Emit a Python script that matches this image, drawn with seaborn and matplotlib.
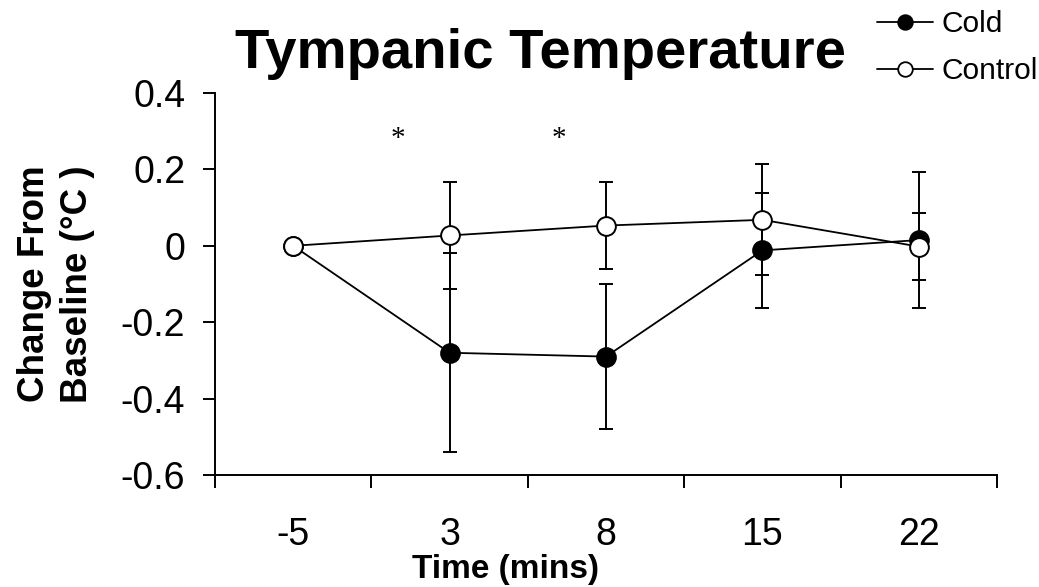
import numpy as np
import pandas as pd
import matplotlib
matplotlib.use("Agg")
import matplotlib.pyplot as plt
from matplotlib.lines import Line2D
import seaborn as sns

# ---- data ----
times = ["-5", "3", "8", "15", "22"]
cold_mean = [0.0, -0.28, -0.29, -0.012, 0.015]
cold_err = [0.0, 0.26, 0.19, 0.15, 0.178]
control_mean = [0.0, 0.027, 0.053, 0.068, -0.002]
control_err = [0.0, 0.14, 0.115, 0.145, 0.087]
ytick_vals = [-0.6, -0.4, -0.2, 0.0, 0.2, 0.4]
ytick_labels = ["-0.6", "-0.4", "-0.2", "0", "0.2", "0.4"]
star_x = [0.672, 1.701]
star_y = [0.262, 0.262]

sns.set_style("white")
plt.rcParams["font.family"] = ["Liberation Sans", "DejaVu Sans"]
plt.rcParams["text.color"] = "black"
plt.rcParams["axes.labelcolor"] = "black"
plt.rcParams["xtick.color"] = "black"
plt.rcParams["ytick.color"] = "black"

df = pd.DataFrame({
    "Time": times * 2,
    "Change": cold_mean + control_mean,
    "Err": cold_err + control_err,
    "Group": ["Cold"] * len(times) + ["Control"] * len(times),
})

fig = plt.figure(figsize=(10.39, 5.87), dpi=100)
ax = fig.add_axes([215 / 1039, 1 - 475 / 587, (997 - 215) / 1039, (475 - 93) / 587])

styles = {"Cold": "black", "Control": "white"}
for g, face in styles.items():
    sub = df[df["Group"] == g]
    pos = [times.index(t) for t in sub["Time"]]
    ax.errorbar(pos, sub["Change"], yerr=sub["Err"], fmt="none", ecolor="black",
                elinewidth=1.4, capsize=4.7, capthick=1.4, zorder=2)
for g, face in styles.items():
    sub = df[df["Group"] == g]
    sns.pointplot(data=sub, x="Time", y="Change", order=times, color="black",
                  markers="o", errorbar=None, ax=ax, linewidth=1.3,
                  markersize=13.5, markeredgewidth=1.4, markerfacecolor=face,
                  markeredgecolor="black", zorder=3)

ax.set_xlim(-0.5, len(times) - 0.5)
ax.set_ylim(ytick_vals[0], ytick_vals[-1])
ax.set_yticks(ytick_vals)
ax.set_yticklabels(ytick_labels)
ax.set_xticks(range(len(times)))
ax.set_xticklabels(times)
ax.set_xticks(np.arange(-0.5, len(times), 1.0), minor=True)

for s in ["top", "right"]:
    ax.spines[s].set_visible(False)
for s in ["left", "bottom"]:
    ax.spines[s].set_color("black")
    ax.spines[s].set_linewidth(1.4)

ax.tick_params(axis="x", which="major", bottom=True, length=0, pad=30, labelsize=27,
               colors="black")
ax.tick_params(axis="x", which="minor", bottom=True, length=9.4, width=1.4,
               direction="out", color="black")
ax.tick_params(axis="y", which="major", left=True, length=8.5, width=1.4, direction="out",
               pad=13, labelsize=27, color="black", labelcolor="black")

ax.set_xlabel("Time (mins)", fontsize=24, fontweight="bold")
ax.xaxis.set_label_coords(0.371, -0.207)
ax.set_ylabel("Change From\nBaseline (°C )", fontsize=26.5, fontweight="bold", linespacing=1.3)
ax.yaxis.set_label_coords(-0.153, 0.5)

for sx, sy in zip(star_x, star_y):
    ax.text(sx, sy, "*", family="Liberation Serif", fontsize=21, ha="center", va="baseline")

fig.text(540 / 1039, 1 - 68 / 587, "Tympanic Temperature", fontsize=40.5, fontweight="bold",
         ha="center", va="baseline")

handles = [
    Line2D([], [], color="black", lw=1.3, marker="o", markersize=10.5, markerfacecolor="black",
           markeredgecolor="black", markeredgewidth=1.3),
    Line2D([], [], color="black", lw=1.3, marker="o", markersize=10.5, markerfacecolor="white",
           markeredgecolor="black", markeredgewidth=1.3),
]
fig.legend(handles, ["Cold", "Control"], loc="upper left", bbox_to_anchor=(877 / 1039, 1 - 10 / 587),
           frameon=False, fontsize=21.5, handlelength=1.87, handletextpad=0.3,
           labelspacing=0.65, borderpad=0, borderaxespad=0)

fig.savefig("out.png", dpi=100)
